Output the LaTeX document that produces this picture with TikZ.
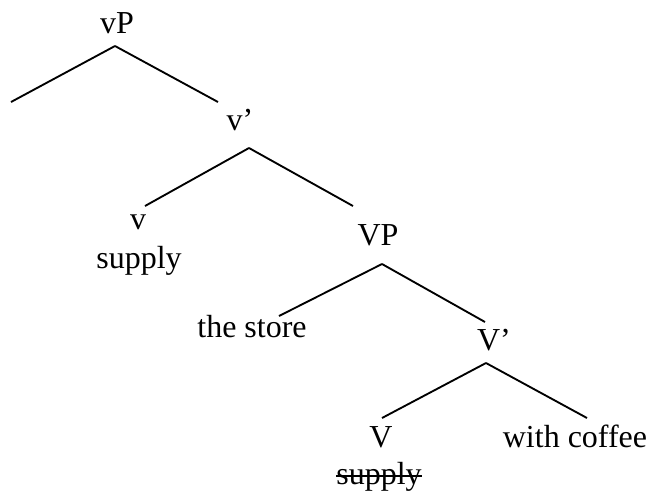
\documentclass[tikz,border=0pt]{standalone}
\usepackage{fontspec}
\setmainfont{Liberation Serif}
\usetikzlibrary{calc}

\begin{document}
\begin{tikzpicture}[x=0.75pt,y=0.75pt,yscale=-1,xscale=1,
		lab/.style={anchor=base,inner sep=0pt,font=\fontsize{24}{28}\selectfont},
		branch/.style={line width=1.4pt}]
		\path[use as bounding box] (0,0) rectangle (652,494);
		
		% Text Node
		\node[lab] (vP) at (117,33) {vP};
		% Text Node
		\node[lab] (vbar) at (240,130) {v’};
		% Text Node
		\node[lab] (vhead) at (138,229) {v};
		% Text Node
		\node[lab] (vsupply) at (139,268) {supply};
		% Text Node
		\node[lab] (VP) at (378,245) {VP};
		% Text Node
		\node[lab] (store) at (252,337) {the store};
		% Text Node
		\node[lab] (Vbar) at (494,350) {V’};
		% Text Node
		\node[lab] (Vhead) at (381,447) {V};
		% Text Node
		\node[lab] (coffee) at (575,447) {with coffee};
		% Text Node
		\node[lab] (Vsupply) at (379,484) {supply};
		%strike through the copy
		\draw[line width=1.2pt] ($(Vsupply.base west)+(0,-8)$) -- ($(Vsupply.base east)+(0,-8)$);
		
		%empty specifier
		\coordinate (spec) at (11,102);
		
		%Straight Lines
		\draw[branch] ($(vP.base)+(-2,13)$) -- (spec);
		\draw[branch] ($(vP.base)+(-2,13)$) -- ($(vbar.base)+(-22,-28)$);
		%Straight Lines
		\draw[branch] ($(vbar.base)+(9,18)$) -- ($(vhead.base)+(7,-23)$);
		\draw[branch] ($(vbar.base)+(9,18)$) -- ($(VP.base)+(-25,-39)$);
		%Straight Lines
		\draw[branch] ($(VP.base)+(4,19)$) -- ($(store.base)+(27,-21)$);
		\draw[branch] ($(VP.base)+(4,19)$) -- ($(Vbar.base)+(-9,-28)$);
		%Straight Lines
		\draw[branch] ($(Vbar.base)+(-8,13)$) -- ($(Vhead.base)+(1,-29)$);
		\draw[branch] ($(Vbar.base)+(-8,13)$) -- ($(coffee.base)+(12,-29)$);
		
	\end{tikzpicture}
\end{document}
